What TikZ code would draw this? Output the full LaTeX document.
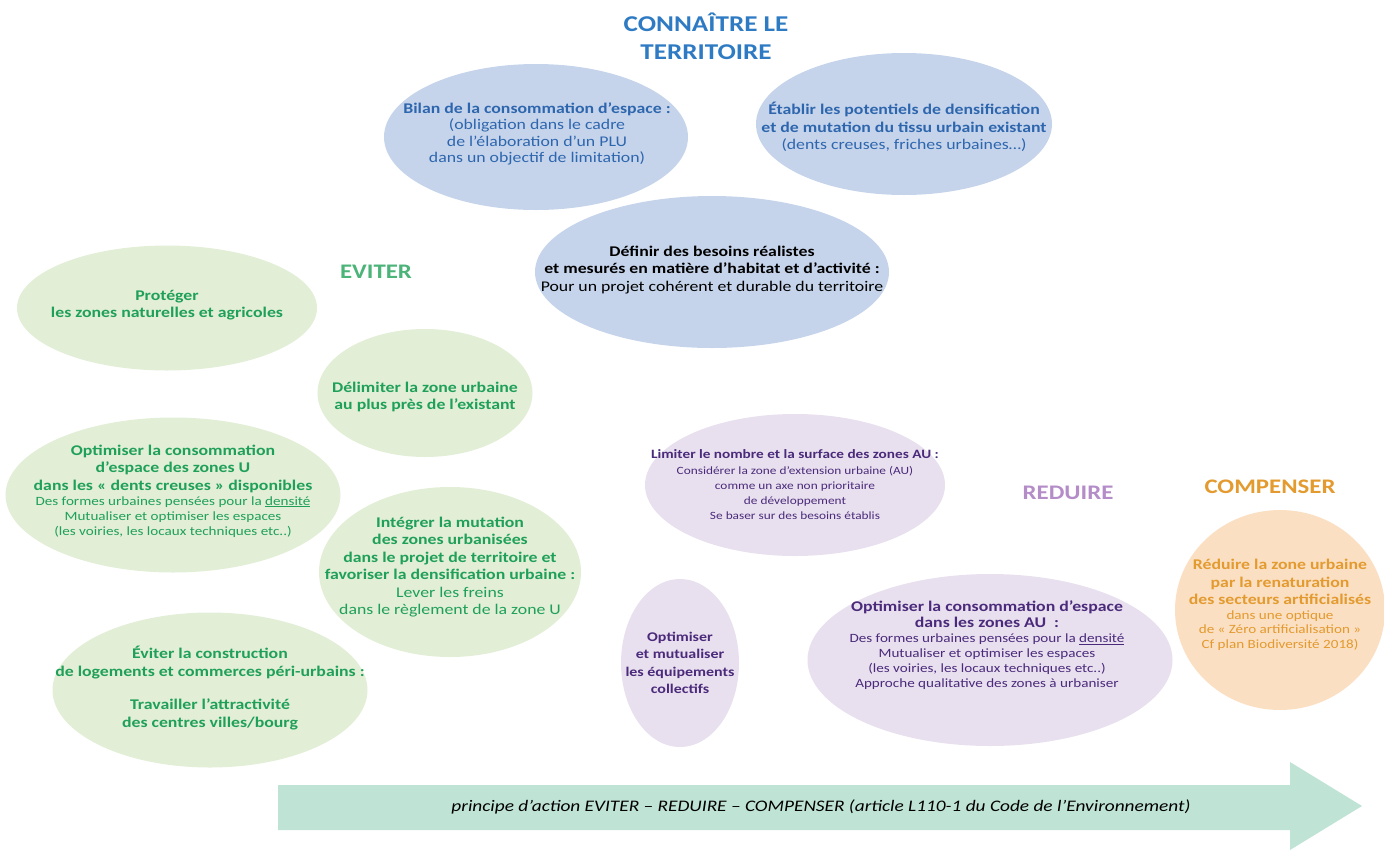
\documentclass[tikz,border=0pt]{standalone}
\usepackage{fontspec}
\setmainfont{Carlito}[FakeStretch=1.2]
\usepackage{tikz}
\usetikzlibrary{shapes.geometric}
\usepackage{xcolor}
\definecolor{ciel}{HTML}{C5D4EB}
\definecolor{bleu}{HTML}{2E66AE}
\definecolor{titre}{HTML}{2E7BC4}
\definecolor{pre}{HTML}{E2EED6}
\definecolor{vert}{HTML}{1FA058}
\definecolor{lila}{HTML}{E8E0EE}
\definecolor{prune}{HTML}{4B2A7B}
\definecolor{mauve}{HTML}{B48CC8}
\definecolor{peche}{HTML}{FBDFC2}
\definecolor{orange}{HTML}{E39A2E}
\definecolor{eau}{HTML}{BFE3D5}
\newcommand{\petit}{\fontsize{12.6}{15}\selectfont\mdseries}
\newcommand{\menu}{\fontsize{11.1}{15}\selectfont\mdseries}

\begin{document}
\begin{tikzpicture}[x=1pt, y=-1pt]
\useasboundingbox (0,0) rectangle (1384,852);
\tikzstyle{every node} = [inner sep=0pt, align=center]
\tikzstyle{bulle} = [ellipse]
\tikzstyle{gros} = [font=\fontsize{14.8}{17.5}\selectfont\bfseries]
\tikzstyle{rubrique} = [font=\fontsize{20.7}{28}\selectfont\bfseries]
% connaitre le territoire
\node[bulle, fill=ciel, minimum width=304pt, minimum height=146pt] (bilan) at (536,137) {};
\node[bulle, fill=ciel, minimum width=296pt, minimum height=142pt] (etablir) at (904,124) {};
\node[bulle, fill=ciel, minimum width=354pt, minimum height=152pt] (definir) at (712,272) {};
\node[rubrique, text=titre, font=\fontsize{22.6}{28}\selectfont\bfseries] (connaitre) at (706,36) {CONNAÎTRE LE\\TERRITOIRE};
\node[text=bleu, font=\fontsize{14.8}{16.5}\selectfont] (tbilan) at (537,134) {\textbf{Bilan de la consommation d’espace :}\\(obligation dans le cadre\\de l’élaboration d’un PLU\\dans un objectif de limitation)};
\node[text=bleu, font=\fontsize{14.8}{17.5}\selectfont] (tetablir) at (904,127) {\textbf{Établir les potentiels de densification}\\\textbf{et de mutation du tissu urbain existant}\\(dents creuses, friches urbaines…)};
\node[text=black, font=\fontsize{14.8}{17.5}\selectfont] (tdefinir) at (712,270) {\textbf{Définir des besoins réalistes}\\\textbf{et mesurés en matière d’habitat et d’activité :}\\Pour un projet cohérent et durable du territoire};
% eviter
\node[bulle, fill=pre, minimum width=300pt, minimum height=125pt] (proteger) at (167,308) {};
\node[bulle, fill=pre, minimum width=215pt, minimum height=128pt] (delimiter) at (425,393) {};
\node[bulle, fill=pre, minimum width=335pt, minimum height=155pt] (optu) at (173,495) {};
\node[bulle, fill=pre, minimum width=262pt, minimum height=170pt] (integrer) at (450,572) {};
\node[bulle, fill=pre, minimum width=315pt, minimum height=155pt] (eviter) at (210,690) {};
\node[rubrique, text=vert!80!white] (leviter) at (376,272) {EVITER};
\node[gros, text=vert] (tproteger) at (167,305) {Protéger\\les zones naturelles et agricoles};
\node[gros, text=vert] (tdelimiter) at (425,397) {Délimiter la zone urbaine\\au plus près de l’existant};
\node[gros, text=vert] (toptu) at (173,491) {Optimiser la consommation\\d’espace des zones U\\dans les « dents creuses » disponibles\\[-2.5pt]
  {\petit Des formes urbaines pensées pour la \underline{densité}}\\[-2.5pt]
  {\petit Mutualiser et optimiser les espaces}\\[-2.5pt]
  {\petit (les voiries, les locaux techniques etc..)}};
\node[gros, text=vert] (tintegrer) at (450,567) {Intégrer la mutation\\des zones urbanisées\\dans le projet de territoire et\\favoriser la densification urbaine :\\{\mdseries Lever les freins}\\{\mdseries dans le règlement de la zone U}};
\node[gros, text=vert] (teviter) at (210,688) {Éviter la construction\\de logements et commerces péri-urbains :\\[16pt]Travailler l’attractivité\\des centres villes/bourg};
% reduire
\node[bulle, fill=lila, minimum width=300pt, minimum height=142pt] (limiter) at (795,485) {};
\node[bulle, fill=lila, minimum width=118pt, minimum height=168pt] (equip) at (680,663) {};
\node[bulle, fill=lila, minimum width=365pt, minimum height=172pt] (optau) at (990,660) {};
\node[rubrique, text=mauve] (lreduire) at (1068,493) {REDUIRE};
\node[gros, text=prune, font=\fontsize{12.7}{15}\selectfont\bfseries] (tlimiter) at (795,485) {Limiter le nombre et la surface des zones AU :\\[1pt]
  {\menu Considérer la zone d’extension urbaine (AU)}\\
  {\menu comme un axe non prioritaire}\\
  {\menu de développement}\\
  {\menu Se baser sur des besoins établis}};
\node[gros, text=prune, font=\fontsize{13.3}{17.5}\selectfont\bfseries] (tequip) at (680,663) {Optimiser\\et mutualiser\\les équipements\\collectifs};
\node[gros, text=prune] (toptau) at (987,645) {Optimiser la consommation d’espace\\[-1.5pt]dans les zones AU~~:\\[-2.5pt]
  {\petit Des formes urbaines pensées pour la \underline{densité}}\\[-2.5pt]
  {\petit Mutualiser et optimiser les espaces}\\[-2.5pt]
  {\petit (les voiries, les locaux techniques etc..)}\\[-2.5pt]
  {\petit Approche qualitative des zones à urbaniser}};
% compenser
\node[bulle, fill=peche, minimum width=210pt, minimum height=200pt] (compenser) at (1280,610) {};
\node[rubrique, text=orange] (lcompenser) at (1270,487) {COMPENSER};
\node[gros, text=orange] (tcompenser) at (1280,605) {Réduire la zone urbaine\\par la renaturation\\des secteurs artificialisés\\[-3pt]
  {\petit dans une optique}\\[-3pt]
  {\petit de « Zéro artificialisation »}\\[-3pt]
  {\petit Cf plan Biodiversité 2018)}};
% fleche du principe
\fill[eau] (278,785) -- (1290,785) -- (1290,762) -- (1362,806) -- (1290,850) -- (1290,830) -- (278,830) -- cycle;
\node[font=\fontsize{16.1}{18}\selectfont\itshape] (principe) at (821,807) {principe d’action EVITER – REDUIRE – COMPENSER (article L110-1 du Code de l’Environnement)};
\end{tikzpicture}
\end{document}
